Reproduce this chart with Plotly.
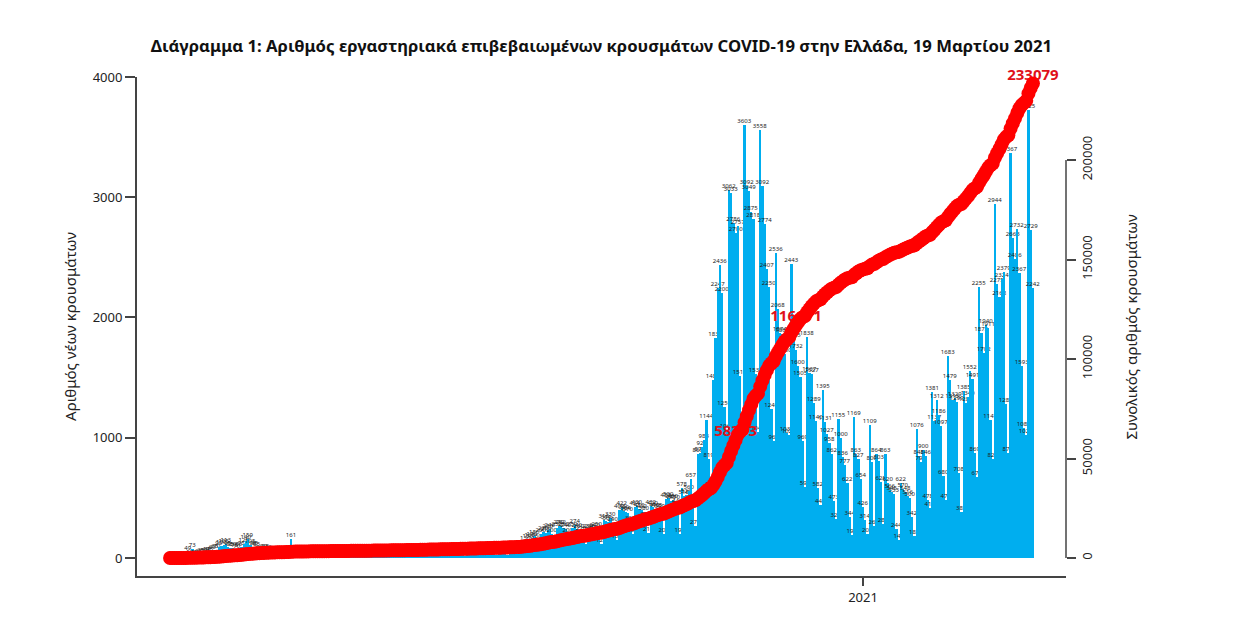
import pandas as pd
import numpy as np
import plotly.graph_objects as go

feb_2020 = [2, 0, 2, 0]
mar_2020 = [2, 2, 4, 6, 49, 10, 73, 15, 20, 25, 35, 30, 40, 38, 45, 60, 65, 70, 90, 100,
            105, 113, 95, 85, 80, 75, 70, 80, 95, 120, 140]
apr_2020 = [159, 105, 90, 95, 85, 60, 50, 70, 65, 60, 50, 45, 30, 25, 40, 35, 30, 25, 20, 161,
            45, 30, 25, 20, 18, 15, 12, 20, 18, 15]
may_2020 = [12, 15, 10, 8, 14, 20, 11, 9, 16, 13, 10, 18, 12, 9, 15, 22, 14, 10, 17, 12,
            8, 20, 13, 11, 16, 10, 12, 15, 19, 14, 11]
jun_2020 = [15, 18, 12, 20, 25, 16, 10, 14, 22, 30, 19, 12, 17, 24, 21, 28, 35, 40, 22, 18,
            25, 30, 26, 20, 15, 28, 33, 24, 19, 27]
jul_2020 = [25, 30, 22, 35, 40, 28, 20, 32, 45, 38, 26, 30, 42, 35, 28, 22, 40, 48, 36, 30,
            25, 44, 50, 38, 32, 28, 46, 55, 42, 36, 60]
aug_2020 = [100, 70, 130, 150, 160, 170, 180, 150, 100, 200, 220, 210, 230, 240, 200, 130,
            250, 270, 262, 250, 240, 200, 130, 250, 274, 240, 230, 220, 180, 120, 230]
sep_2020 = [230, 220, 240, 250, 190, 120, 316, 311, 300, 330, 290, 230, 150, 400, 422, 390,
            384, 370, 300, 199, 424, 430, 410, 402, 380, 330, 210, 432, 420, 410]
oct_2020 = [405, 399, 320, 200, 489, 500, 475, 480, 470, 440, 198, 578, 518, 526, 560, 657,
            440, 270, 866, 877, 927, 983, 1144, 819, 584, 1483, 1830, 2247, 2436, 2200, 1259]
nov_2020 = [1068, 3062, 3033, 2786, 2700, 2757, 1510, 1040, 3603, 3092, 3049, 2875, 2818, 1534,
            1046, 3558, 3092, 2774, 2407, 2250, 1240, 969, 2536, 2068, 1874, 1862, 1700, 1036,
            1026, 2443]
dec_2020 = [1825, 1732, 1600, 1505, 969, 591, 1838, 1537, 1527, 1289, 1140, 582, 442, 1395,
            1131, 1027, 958, 862, 473, 322, 1155, 1000, 836, 777, 622, 344, 195, 1169, 863, 827,
            654]
jan_2021 = [426, 314, 202, 1109, 800, 262, 864, 803, 628, 281, 863, 620, 566, 545, 533, 244,
            148, 622, 570, 548, 516, 500, 342, 184, 1076, 848, 794, 900, 846, 478, 418]
feb_2021 = [1381, 1137, 1312, 1186, 1097, 680, 478, 1683, 1479, 1313, 1329, 1299, 708, 380,
            1385, 1287, 1340, 1552, 1491, 869, 673, 2255, 1872, 1702, 1940, 1911, 1147, 827]
mar_2021 = [2944, 2275, 2168, 2324, 2379, 1280, 872, 3367, 2663, 2486, 2732, 2367, 1593, 1080,
            1025, 3725, 2729, 2242]

# Cumulative totals printed on the red curve
total_labels = [58333, 116671, 233079]

# axis ticks
left_ticks = [0, 1000, 2000, 3000, 4000]
right_ticks = [0, 50000, 100000, 150000, 200000]

cases = (feb_2020 + mar_2020 + apr_2020 + may_2020 + jun_2020 + jul_2020 + aug_2020
         + sep_2020 + oct_2020 + nov_2020 + dec_2020 + jan_2021 + feb_2021 + mar_2021)
dates = pd.date_range("2020-02-26", periods=len(cases), freq="D")
cumulative = np.cumsum(cases)

# place each total label at the day the curve reaches it
label_idx = [min(int(np.searchsorted(cumulative, v)), len(cases) - 1) for v in total_labels]
label_idx[-1] = len(cases) - 1

FONT = "Noto Sans"
AXIS = "#444444"

fig = go.Figure()

fig.add_trace(go.Bar(
    x=dates, y=cases,
    marker=dict(color="#00AEEF", line=dict(width=0)),
    text=[str(v) for v in cases],
    textposition="outside",
    textangle=0,
    constraintext="none",
    cliponaxis=False,
    textfont=dict(family=FONT, size=6, color="#222222"),
    hoverinfo="x+y",
))

fig.add_trace(go.Scatter(
    x=[dates[i] for i in label_idx], y=[cumulative[i] for i in label_idx],
    yaxis="y2", mode="text",
    text=[str(v) for v in total_labels],
    textposition="top center",
    textfont=dict(family=FONT, size=15, color="#E0101A", weight="bold"),
    cliponaxis=False,
    hoverinfo="skip",
))

fig.add_trace(go.Scatter(
    x=dates, y=cumulative, yaxis="y2",
    mode="lines+markers",
    line=dict(color="#FF0000", width=8),
    marker=dict(color="#FF0000", size=14),
    cliponaxis=False,
))

# right axis line only spans its tick range
fig.add_shape(type="line", xref="paper", x0=1, x1=1, yref="y2", y0=0, y1=200000,
              line=dict(color=AXIS, width=1.5))

# right axis title reads bottom-to-top like the left one
fig.add_annotation(
    text="Συνολικός αριθμός κρουσμάτων",
    xref="paper", yref="paper", x=1.069, y=0.5,
    xanchor="center", yanchor="middle", textangle=-90, showarrow=False,
    font=dict(family=FONT, size=15, color="#222222"),
)

# the page adds an 8px body margin, so the figure is 8px smaller and shifted
fig.update_layout(
    width=1252, height=610,
    margin=dict(l=129, r=194, t=69, b=42),
    paper_bgcolor="white", plot_bgcolor="white",
    showlegend=False,
    bargap=0,
    font=dict(family=FONT, color="#222222"),
    title=dict(
        text="<b>Διάγραμμα 1: Αριθμός εργαστηριακά επιβεβαιωμένων κρουσμάτων COVID-19 στην Ελλάδα, 19 Μαρτίου 2021</b>",
        x=0.474, xanchor="center", y=0.937, yanchor="middle",
        font=dict(family=FONT, size=16.7, color="#111111"),
    ),
    xaxis=dict(
        type="date",
        range=["2020-02-11 05:00", "2021-04-01 19:00"],
        tickvals=["2021-01-01"], ticktext=["2021"],
        ticks="outside", ticklen=8, tickwidth=1.5, tickcolor=AXIS,
        showline=True, linecolor=AXIS, linewidth=2,
        showgrid=False, zeroline=False,
        tickfont=dict(family=FONT, size=13, color="#222222"),
    ),
    yaxis=dict(
        range=[-150, 4000],
        tickvals=left_ticks,
        ticks="outside", ticklen=10, tickwidth=1.5, tickcolor=AXIS,
        showline=True, linecolor=AXIS, linewidth=2,
        showgrid=False, zeroline=False,
        tickfont=dict(family=FONT, size=13, color="#222222"),
        title=dict(text="Αριθμός νέων κρουσμάτων", standoff=12,
                   font=dict(family=FONT, size=15, color="#222222")),
    ),
    yaxis2=dict(
        overlaying="y", side="right",
        range=[-9045, 241709],
        tickvals=right_ticks, ticktext=[str(v) for v in right_ticks],
        tickangle=-90,
        ticks="outside", ticklen=9, tickwidth=1.5, tickcolor=AXIS,
        showline=False, showgrid=False, zeroline=False,
        tickfont=dict(family=FONT, size=13, color="#222222"),
    ),
)

fig.write_html("out.html")
